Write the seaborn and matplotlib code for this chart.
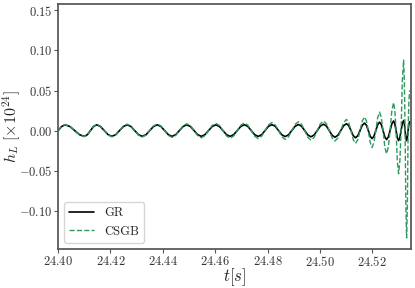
import matplotlib

matplotlib.use("Agg")

import matplotlib.pyplot as plt
import pandas as pd
import seaborn as sns
from matplotlib.ticker import FormatStrFormatter

# time samples: per cycle zero, shoulder, peak,
# shoulder, zero, shoulder, trough, shoulder
t = [
    24.40000, 24.40134, 24.40268, 24.40451, 24.40634, 24.40817, 24.41000, 24.41118,
    24.41236, 24.41354, 24.41472, 24.41618, 24.41764, 24.41910, 24.42055, 24.42201,
    24.42347, 24.42493, 24.42639, 24.42782, 24.42925, 24.43069, 24.43212, 24.43356,
    24.43499, 24.43643, 24.43786, 24.43927, 24.44068, 24.44209, 24.44350, 24.44491,
    24.44632, 24.44773, 24.44914, 24.45053, 24.45191, 24.45330, 24.45468, 24.45607,
    24.45745, 24.45884, 24.46023, 24.46159, 24.46295, 24.46432, 24.46568, 24.46704,
    24.46840, 24.46977, 24.47113, 24.47245, 24.47376, 24.47508, 24.47639, 24.47771,
    24.47902, 24.48033, 24.48164, 24.48291, 24.48418, 24.48545, 24.48671, 24.48798,
    24.48924, 24.49051, 24.49178, 24.49298, 24.49417, 24.49537, 24.49656, 24.49776,
    24.49895, 24.50015, 24.50134, 24.50244, 24.50354, 24.50464, 24.50574, 24.50684,
    24.50794, 24.50904, 24.51013, 24.51099, 24.51185, 24.51272, 24.51358, 24.51444,
    24.51530, 24.51616, 24.51702, 24.51774, 24.51846, 24.51918, 24.51989, 24.52061,
    24.52132, 24.52204, 24.52275, 24.52342, 24.52409, 24.52476, 24.52543, 24.52610,
    24.52677, 24.52744, 24.52811, 24.52859, 24.52906, 24.52954, 24.53002, 24.53050,
    24.53097, 24.53145, 24.53193, 24.53222, 24.53250, 24.53279, 24.53308, 24.53337,
    24.53365, 24.53394, 24.53423,
]

h_gr = [
    0, .0051, .0072, .0051, 0, -.0051, -.0072, -.0051,
    0, .0051, .0072, .0051, 0, -.0051, -.0072, -.0051,
    0, .0051, .0072, .0051, 0, -.0051, -.0072, -.0051,
    0, .0051, .0072, .0051, 0, -.0051, -.0072, -.0051,
    0, .0051, .0072, .0051, 0, -.0051, -.0072, -.0051,
    0, .0051, .0072, .0051, 0, -.0051, -.0072, -.0051,
    0, .0052, .0073, .0052, 0, -.0052, -.0073, -.0052,
    0, .0053, .0074, .0053, 0, -.0053, -.0075, -.0053,
    0, .0054, .0076, .0054, 0, -.0055, -.0078, -.0055,
    0, .0057, .0080, .0057, 0, -.0059, -.0083, -.0059,
    0, .0061, .0086, .0061, 0, -.0064, -.0090, -.0064,
    0, .0067, .0094, .0067, 0, -.0071, -.0100, -.0071,
    0, .0075, .0105, .0075, 0, -.0080, -.0112, -.0080,
    0, .0085, .0120, .0085, 0, -.0089, -.0125, -.0089,
    0, .0089, .0125, .0089, 0, -.0089, -.0125, -.0089,
    0, .0078, .0110,
]

h_csgb = [
    0, .0053, .0075, .0053, 0, -.0053, -.0075, -.0053,
    0, .0055, .0078, .0055, 0, -.0055, -.0078, -.0055,
    0, .0057, .0080, .0057, 0, -.0057, -.0080, -.0057,
    0, .0058, .0082, .0058, 0, -.0060, -.0085, -.0060,
    0, .0060, .0085, .0060, 0, -.0064, -.0090, -.0064,
    0, .0064, .0090, .0064, 0, -.0067, -.0095, -.0067,
    0, .0067, .0095, .0067, 0, -.0071, -.0100, -.0071,
    0, .0071, .0100, .0071, 0, -.0078, -.0110, -.0078,
    0, .0078, .0110, .0078, 0, -.0085, -.0120, -.0085,
    0, .0085, .0120, .0085, 0, -.0092, -.0130, -.0092,
    0, .0099, .0140, .0099, 0, -.0114, -.0160, -.0114,
    0, .0121, .0170, .0121, 0, -.0149, -.0210, -.0149,
    0, .0163, .0230, .0163, 0, -.0206, -.0290, -.0206,
    0, .0249, .0350, .0249, 0, -.0383, -.0540, -.0383,
    0, .0625, .0880, .0625, 0, -.0951, -.1340, -.0951,
    0, .0355, .0500,
]

df = pd.DataFrame({"t": t, "GR": h_gr, "CSGB": h_csgb})

sns.set_theme(style="ticks")
plt.rcParams.update({
    "font.family": "serif",
    "font.serif": ["cmr10"],
    "mathtext.fontset": "cm",
    "axes.formatter.use_mathtext": True,
    "axes.edgecolor": "#555555",
    "xtick.color": "#555555",
    "ytick.color": "#555555",
    "xtick.labelcolor": "#333333",
    "ytick.labelcolor": "#333333",
})

fig = plt.figure(figsize=(4.15, 2.88), dpi=100)
ax = fig.add_axes([0.14, 0.135, 0.85, 0.851])

sns.lineplot(data=df, x="t", y="GR", color="black", lw=1.2, label="GR",
             sort=False, estimator=None, ax=ax)
sns.lineplot(data=df, x="t", y="CSGB", color="#2e9a5e", lw=1.0, ls="--",
             label="CSGB", sort=False, estimator=None, ax=ax)

ax.set_xlim(24.40, 24.5347)
ax.set_ylim(-0.148, 0.158)
ax.set_xticks([24.40, 24.42, 24.44, 24.46, 24.48, 24.50, 24.52])
ax.set_yticks([-0.10, -0.05, 0.00, 0.05, 0.10, 0.15])
ax.xaxis.set_major_formatter(FormatStrFormatter("$%.2f$"))
ax.yaxis.set_major_formatter(FormatStrFormatter("$%.2f$"))
ax.tick_params(labelsize=9, length=3, width=0.8, pad=1)
ax.set_xlabel(r"$t[s]$", fontsize=12)
ax.xaxis.set_label_coords(0.5, -0.068)
ax.set_ylabel(r"$h_L\ [\times 10^{24}]$", fontsize=11.5)
ax.yaxis.set_label_coords(-0.10, 0.5)
ax.legend(loc="lower left", fontsize=9, frameon=True)

fig.savefig("out.png", dpi=100)
